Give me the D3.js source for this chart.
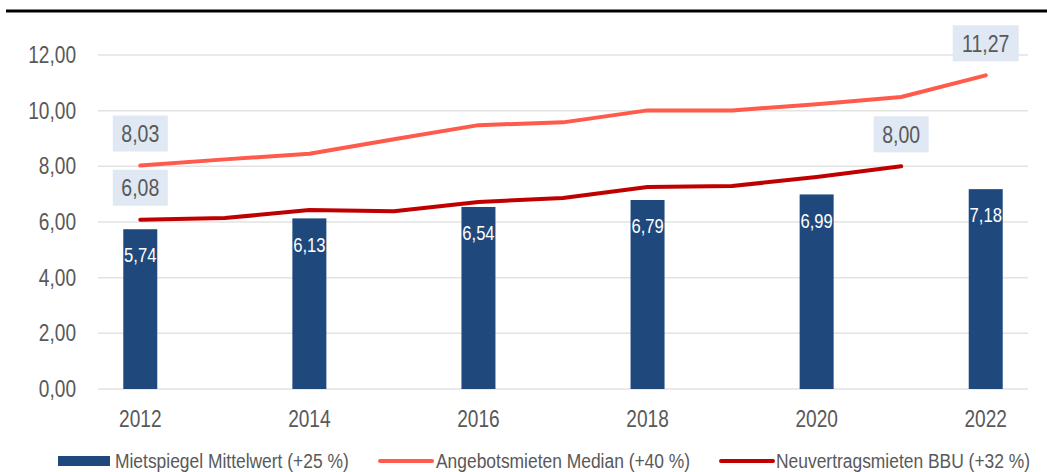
<!DOCTYPE html>
<html>
<head>
<meta charset="utf-8">
<script src="https://cdn.jsdelivr.net/npm/d3@7"></script>
<style>
  body { margin: 0; background: #fff; }
  svg { display: block; font-family: "Liberation Sans", Arial, sans-serif; }
</style>
</head>
<body>
<script>
// Jahre (x-Achse)
const years = [2012, 2013, 2014, 2015, 2016, 2017, 2018, 2019, 2020, 2021, 2022];

// Mietspiegel Mittelwert – nur gerade Jahre
const mietspiegelYears = [2012, 2014, 2016, 2018, 2020, 2022];
const mietspiegel = [5.74, 6.13, 6.54, 6.79, 6.99, 7.18];

// Angebotsmieten Median
const angebot = [8.03, 8.25, 8.45, 8.97, 9.48, 9.58, 10.01, 10.01, 10.23, 10.49, 11.27];

// Neuvertragsmieten BBU (bis 2021)
const neuvertragYears = [2012, 2013, 2014, 2015, 2016, 2017, 2018, 2019, 2020, 2021];
const neuvertrag = [6.08, 6.14, 6.43, 6.39, 6.72, 6.86, 7.26, 7.29, 7.62, 8.00];

const yTicks = [0, 2, 4, 6, 8, 10, 12];
const xTickYears = [2012, 2014, 2016, 2018, 2020, 2022];

const seriesNames = [
  'Mietspiegel Mittelwert (+25 %)',
  'Angebotsmieten Median (+40 %)',
  'Neuvertragsmieten BBU (+32 %)'
];

const width = 1047;
const height = 472;
const margin = { top: 55, right: 19, bottom: 83, left: 98 };

const colBar = '#1f497d';
const colAngebot = '#ff5a4b';
const colNeu = '#c00000';
const textCol = '#595959';

// Schrift im Original ist schmaler -> horizontal stauchen
const k = 0.83;
const squeeze = (sel, size) => sel
  .attr('font-size', size)
  .each(function () {
    const t = d3.select(this);
    const xv = +t.attr('x') || 0;
    t.attr('x', xv / k).attr('transform', `scale(${k},1)`);
  });

const fmt = v => d3.format('.2f')(v).replace('.', ',');

const x = d3.scaleBand()
  .domain(years)
  .range([margin.left, width - margin.right])
  .padding(0);

const y = d3.scaleLinear()
  .domain([0, 12])
  .range([height - margin.bottom, margin.top]);

const cx = d => x(d) + x.bandwidth() / 2;

const svg = d3.select('body')
  .append('svg')
  .attr('width', width)
  .attr('height', height);

// Linie oben
svg.append('line')
  .attr('x1', 6).attr('x2', width)
  .attr('y1', 11).attr('y2', 11)
  .attr('stroke', '#000')
  .attr('stroke-width', 3);

// Gitternetz
svg.append('g')
  .selectAll('line')
  .data(yTicks)
  .join('line')
  .attr('x1', margin.left)
  .attr('x2', width - margin.right)
  .attr('y1', d => y(d))
  .attr('y2', d => y(d))
  .attr('stroke', '#e3e3e3')
  .attr('stroke-width', 1.5);

// y-Achse
const yAxis = svg.append('g')
  .attr('transform', `translate(${margin.left - 19},0)`)
  .call(d3.axisLeft(y).tickValues(yTicks).tickFormat(fmt).tickSize(0));
yAxis.select('.domain').remove();
yAxis.selectAll('text')
  .attr('font-family', '"Liberation Sans", Arial, sans-serif')
  .attr('fill', textCol)
  .call(squeeze, 23);

// x-Achse
const xAxis = svg.append('g')
  .attr('transform', `translate(0,${height - margin.bottom})`)
  .call(d3.axisBottom(x).tickValues(xTickYears).tickSize(0));
xAxis.select('.domain').remove();
xAxis.selectAll('text')
  .attr('font-family', '"Liberation Sans", Arial, sans-serif')
  .attr('fill', textCol)
  .attr('y', 30)
  .attr('dy', '0.36em')
  .call(squeeze, 23);

// Balken
const barW = 34;
const bars = mietspiegelYears.map((yr, i) => ({ year: yr, value: mietspiegel[i] }));

svg.append('g')
  .selectAll('rect')
  .data(bars)
  .join('rect')
  .attr('x', d => cx(d.year) - barW / 2)
  .attr('y', d => y(d.value))
  .attr('width', barW)
  .attr('height', d => y(0) - y(d.value))
  .attr('fill', colBar);

svg.append('g')
  .selectAll('text')
  .data(bars)
  .join('text')
  .attr('x', d => cx(d.year))
  .attr('y', d => y(d.value) + 26)
  .attr('dy', '0.36em')
  .attr('text-anchor', 'middle')
  .attr('fill', '#fff')
  .text(d => fmt(d.value))
  .call(squeeze, 20);

// Linien
const line = d3.line()
  .x(d => cx(d.year))
  .y(d => y(d.value));

const angebotData = years.map((yr, i) => ({ year: yr, value: angebot[i] }));
const neuData = neuvertragYears.map((yr, i) => ({ year: yr, value: neuvertrag[i] }));

svg.append('path')
  .datum(angebotData)
  .attr('fill', 'none')
  .attr('stroke', colAngebot)
  .attr('stroke-width', 4)
  .attr('stroke-linecap', 'round')
  .attr('stroke-linejoin', 'round')
  .attr('d', line);

svg.append('path')
  .datum(neuData)
  .attr('fill', 'none')
  .attr('stroke', colNeu)
  .attr('stroke-width', 4)
  .attr('stroke-linecap', 'round')
  .attr('stroke-linejoin', 'round')
  .attr('d', line);

// Beschriftungen erster/letzter Punkt
const callouts = [
  angebotData[0],
  angebotData[angebotData.length - 1],
  neuData[0],
  neuData[neuData.length - 1]
];

const callG = svg.append('g')
  .selectAll('g')
  .data(callouts)
  .join('g')
  .attr('transform', d => `translate(${cx(d.year)},${y(d.value) - 32})`);

callG.append('rect')
  .attr('x', d => d.value >= 10 ? -33 : -27.5)
  .attr('y', -18)
  .attr('width', d => d.value >= 10 ? 66 : 55)
  .attr('height', 36)
  .attr('fill', '#dfe8f3');

callG.append('text')
  .attr('text-anchor', 'middle')
  .attr('dy', '0.36em')
  .attr('fill', textCol)
  .text(d => fmt(d.value))
  .call(squeeze, 23.5);

// Legende
const legY = 460;
const legend = svg.append('g').attr('fill', textCol);

legend.append('rect')
  .attr('x', 58).attr('y', legY - 4)
  .attr('width', 52).attr('height', 10)
  .attr('fill', colBar);
legend.append('text')
  .attr('x', 115).attr('y', legY).attr('dy', '0.36em')
  .text(seriesNames[0])
  .call(squeeze, 21);

legend.append('line')
  .attr('x1', 380).attr('x2', 432)
  .attr('y1', legY + 1).attr('y2', legY + 1)
  .attr('stroke', colAngebot).attr('stroke-width', 4)
  .attr('stroke-linecap', 'round');
legend.append('text')
  .attr('x', 436).attr('y', legY).attr('dy', '0.36em')
  .text(seriesNames[1])
  .call(squeeze, 21);

legend.append('line')
  .attr('x1', 721).attr('x2', 773)
  .attr('y1', legY + 1).attr('y2', legY + 1)
  .attr('stroke', colNeu).attr('stroke-width', 4)
  .attr('stroke-linecap', 'round');
legend.append('text')
  .attr('x', 776).attr('y', legY).attr('dy', '0.36em')
  .text(seriesNames[2])
  .call(squeeze, 21);
</script>
</body>
</html>
